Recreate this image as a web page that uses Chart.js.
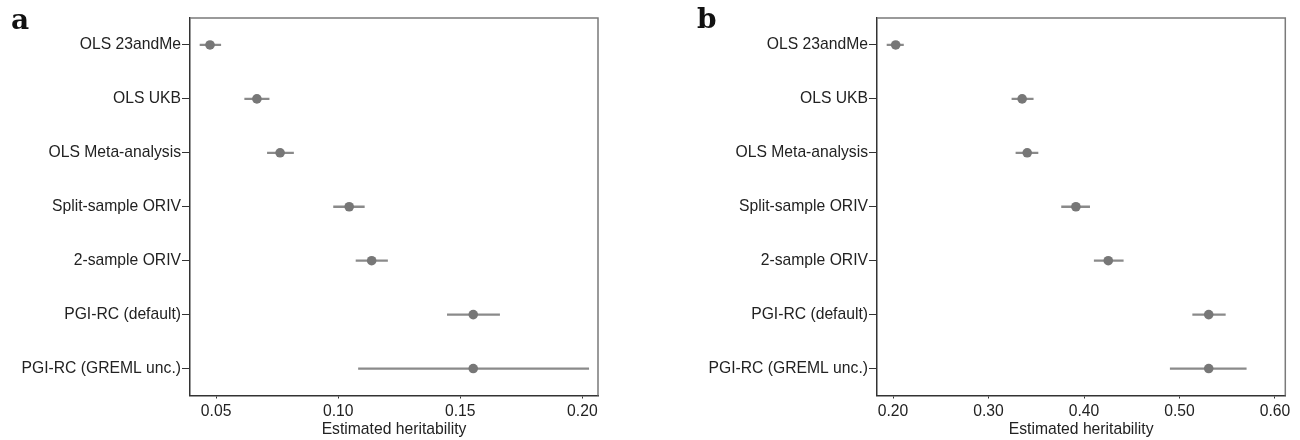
<!DOCTYPE html>
<html>
<head>
<meta charset="utf-8">
<script src="https://cdn.jsdelivr.net/npm/chart.js@4"></script>
<style>
  body { margin: 0; background: #fff; }
  #wrap { position: relative; width: 1300px; height: 440px; }
  canvas { position: absolute; top: 0; }
  .tag { position: absolute; font-family: "DejaVu Serif", serif; font-weight: bold; font-size: 28px; color: #111; line-height: 1; }
</style>
</head>
<body>
<div id="wrap">
  <canvas id="chartA" width="650" height="440" style="left:0"></canvas>
  <canvas id="chartB" width="650" height="440" style="left:650px"></canvas>
  <div class="tag" style="left:11px; top:6px">a</div>
  <div class="tag" style="left:697px; top:5px">b</div>
</div>
<script>
// methods (top to bottom)
const methods = ['OLS 23andMe', 'OLS UKB', 'OLS Meta-analysis', 'Split-sample ORIV',
                 '2-sample ORIV', 'PGI-RC (default)', 'PGI-RC (GREML unc.)'];

// panel a
const estA = [0.0475, 0.0667, 0.0762, 0.1045, 0.1137, 0.1553, 0.1553];
const loA  = [0.0434, 0.0617, 0.0710, 0.0981, 0.1073, 0.1447, 0.1083];
const hiA  = [0.0519, 0.0717, 0.0817, 0.1107, 0.1202, 0.1661, 0.2026];
const ticksA = [0.05, 0.10, 0.15, 0.20];

// panel b
const estB = [0.2028, 0.3352, 0.3405, 0.3915, 0.4254, 0.5306, 0.5306];
const loB  = [0.1937, 0.3245, 0.3287, 0.3765, 0.4107, 0.5138, 0.4903];
const hiB  = [0.2109, 0.3468, 0.3518, 0.4059, 0.4411, 0.5480, 0.5699];
const ticksB = [0.20, 0.30, 0.40, 0.50, 0.60];

Chart.defaults.font.family = '"Liberation Sans", Arial, sans-serif';
Chart.defaults.font.size = 15.7;
Chart.defaults.color = '#222';

// light top/right frame lines
const framePlugin = {
  id: 'frame',
  afterDatasetsDraw(chart) {
    const {ctx, chartArea: a} = chart;
    ctx.save();
    ctx.strokeStyle = '#7a7a7a';
    ctx.lineWidth = 1.5;
    ctx.beginPath();
    ctx.moveTo(a.left, a.top);
    ctx.lineTo(a.right, a.top);
    ctx.lineTo(a.right, a.bottom);
    ctx.stroke();
    ctx.restore();
  }
};

function makeChart(id, est, lo, hi, xTicks, xMin, xMax, yWidth, padRight) {
  return new Chart(document.getElementById(id), {
    type: 'bar',
    data: {
      labels: methods,
      datasets: [
        {
          type: 'scatter',
          data: est.map((v, i) => ({x: v, y: methods[i]})),
          backgroundColor: '#777777',
          borderColor: '#777777',
          pointRadius: 4.8,
          borderWidth: 0,
          order: 0
        },
        {
          data: lo.map((v, i) => [v, hi[i]]),
          backgroundColor: '#8a8a8a',
          barThickness: 1.6,
          borderWidth: 0,
          order: 1
        }
      ]
    },
    options: {
      indexAxis: 'y',
      responsive: false,
      animation: false,
      layout: { padding: { top: 18, right: padRight, left: 0, bottom: 0 } },
      plugins: { legend: { display: false }, tooltip: { enabled: false } },
      scales: {
        x: {
          type: 'linear',
          min: xMin,
          max: xMax,
          afterBuildTicks: s => { s.ticks = xTicks.map(v => ({value: v})); },
          afterFit: s => { s.height = 44.5; },
          ticks: { padding: 4, callback: v => v.toFixed(2) },
          grid: { drawOnChartArea: false, tickLength: 3, tickColor: '#333' },
          border: { color: '#333', width: 1.5 },
          title: { display: true, text: 'Estimated heritability', padding: { top: 0, bottom: 1 } }
        },
        y: {
          type: 'category',
          offset: true,
          afterFit: s => { s.width = yWidth; },
          ticks: { padding: 1 },
          grid: { drawOnChartArea: false, tickLength: 8, tickColor: '#333', offset: false },
          border: { color: '#333', width: 1.5 }
        }
      }
    },
    plugins: [framePlugin]
  });
}

makeChart('chartA', estA, loA, hiA, ticksA, 0.0393, 0.2064, 190, 52);
makeChart('chartB', estB, loB, hiB, ticksB, 0.1832, 0.6108, 227, 14.7);
</script>
</body>
</html>
